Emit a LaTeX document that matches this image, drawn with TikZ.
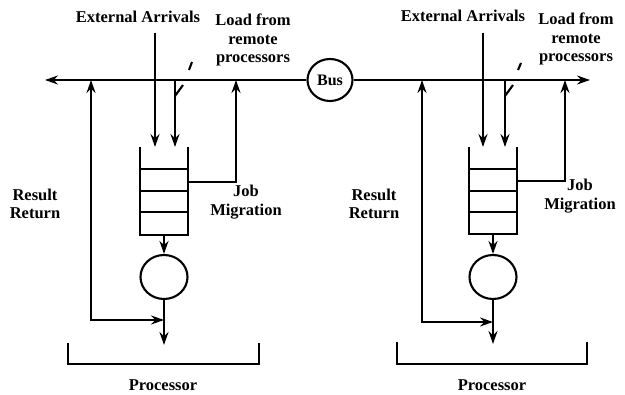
\documentclass[tikz,border=0pt]{standalone}
\usepackage{fontspec}
\setmainfont{Liberation Serif}
\usetikzlibrary{arrows.meta,shapes.geometric}
\begin{document}
\begin{tikzpicture}[x=1pt,y=-1pt,
  ln/.style={line width=2.1pt},
  arr/.style={ln,-{Stealth[length=13pt,width=9pt]}},
  dbl/.style={ln,{Stealth[length=13pt,width=9pt]}-{Stealth[length=13pt,width=9pt]}},
  lbl/.style={font=\fontsize{16.5}{18.5}\selectfont\bfseries,align=center,inner sep=0pt},
  srv/.style={draw,ln,ellipse,minimum width=47pt,minimum height=44pt,inner sep=0pt}]
\useasboundingbox (0,0) rectangle (625,395);

% Bus
\node[draw,ln,ellipse,minimum width=45pt,minimum height=42pt,inner sep=0pt,font=\fontsize{16}{17}\selectfont\bfseries] (bus) at (330,80) {Bus};
\coordinate (busL) at (45,80);
\coordinate (busR) at (590,80);
\draw[arr] (bus.west) -- (busL);
\draw[arr] (bus.east) -- (busR);

% ---------- Left processor ----------
\node[lbl] (eaL) at (138,17) {External Arrivals};
\node[lbl] (ldL) at (253,40) {Load from\\remote\\processors};
\node[lbl] (jmL) at (246,202) {Job\\Migration};
\node[lbl] (rrL) at (35,204) {Result\\Return};
\node[lbl] (prL) at (163,385) {Processor};

\coordinate (eaLt) at (155,33);
\coordinate (eaLb) at (155,147);
\draw[arr] (eaLt) -- (eaLb);
\coordinate (ldLt) at (175,80);
\coordinate (ldLb) at (175,147);
\draw[arr] (ldLt) -- (ldLb);
\coordinate (slL1) at (192,62);
\coordinate (slL2) at (189,70);
\draw[ln] (slL1) -- (slL2);
\coordinate (kkL1) at (183,85);
\coordinate (kkL2) at (175,96);
\draw[ln] (kkL1) -- (kkL2);

% queue
\coordinate (qLtl) at (140,147);
\coordinate (qLtr) at (188,147);
\coordinate (qLbl) at (140,235);
\coordinate (qLbr) at (188,235);
\draw[ln] (qLtl) -- (qLbl) -- (qLbr) -- (qLtr);
\draw[ln] (140,169) -- (188,169);
\draw[ln] (140,191) -- (188,191);
\draw[ln] (140,212) -- (188,212);
\coordinate (qLout) at (164,235);

% job migration
\coordinate (jmL1) at (188,182);
\coordinate (jmL2) at (236,182);
\coordinate (jmL3) at (236,80);
\draw[arr] (jmL1) -- (jmL2) -- (jmL3);

% server
\node[srv] (sL) at (164,277) {};
\draw[arr] (qLout) -- (sL.north);
\coordinate (outL) at (164,345);
\draw[arr] (sL.south) -- (outL);

% result return
\coordinate (rrL1) at (91,80);
\coordinate (rrL2) at (91,320);
\coordinate (rrL3) at (164,320);
\draw[dbl] (rrL1) -- (rrL2) -- (rrL3);

% bracket
\coordinate (brL1) at (68,343);
\coordinate (brL2) at (68,364);
\coordinate (brL3) at (259,364);
\coordinate (brL4) at (259,343);
\draw[ln] (brL1) -- (brL2) -- (brL3) -- (brL4);

% ---------- Right processor ----------
\node[lbl] (eaR) at (463,16) {External Arrivals};
\node[lbl] (ldR) at (576,39) {Load from\\remote\\processors};
\node[lbl] (jmR) at (580,196) {Job\\Migration};
\node[lbl] (rrR) at (374,204) {Result\\Return};
\node[lbl] (prR) at (492,385) {Processor};

\coordinate (eaRt) at (483,33);
\coordinate (eaRb) at (483,147);
\draw[arr] (eaRt) -- (eaRb);
\coordinate (ldRt) at (505,80);
\coordinate (ldRb) at (505,147);
\draw[arr] (ldRt) -- (ldRb);
\coordinate (slR1) at (521,63);
\coordinate (slR2) at (518,70);
\draw[ln] (slR1) -- (slR2);
\coordinate (kkR1) at (513,85);
\coordinate (kkR2) at (505,96);
\draw[ln] (kkR1) -- (kkR2);

\coordinate (qRtl) at (469,147);
\coordinate (qRtr) at (517,147);
\coordinate (qRbl) at (469,234);
\coordinate (qRbr) at (517,234);
\draw[ln] (qRtl) -- (qRbl) -- (qRbr) -- (qRtr);
\draw[ln] (469,169) -- (517,169);
\draw[ln] (469,191) -- (517,191);
\draw[ln] (469,212) -- (517,212);
\coordinate (qRout) at (493,234);

\coordinate (jmR1) at (517,181);
\coordinate (jmR2) at (565,181);
\coordinate (jmR3) at (565,80);
\draw[arr] (jmR1) -- (jmR2) -- (jmR3);

\node[srv] (sR) at (493,277) {};
\draw[arr] (qRout) -- (sR.north);
\coordinate (outR) at (493,344);
\draw[arr] (sR.south) -- (outR);

\coordinate (rrR1) at (422,80);
\coordinate (rrR2) at (422,322);
\coordinate (rrR3) at (493,322);
\draw[dbl] (rrR1) -- (rrR2) -- (rrR3);

\coordinate (brR1) at (397,342);
\coordinate (brR2) at (397,364);
\coordinate (brR3) at (587,364);
\coordinate (brR4) at (587,342);
\draw[ln] (brR1) -- (brR2) -- (brR3) -- (brR4);
\end{tikzpicture}
\end{document}
